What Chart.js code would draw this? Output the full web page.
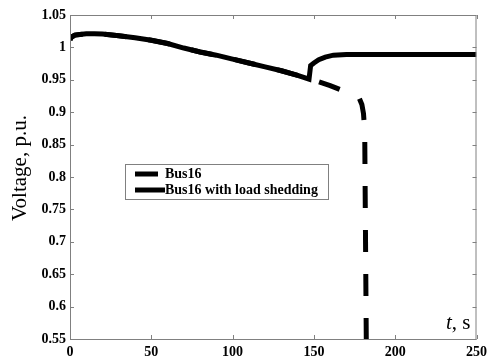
<!DOCTYPE html>
<html>
<head>
<meta charset="utf-8">
<script src="https://cdn.jsdelivr.net/npm/chart.js@4.4.1/dist/chart.umd.min.js"></script>
<style>
  html, body { margin: 0; padding: 0; background: #fff; }
  #wrap { width: 492px; height: 360px; }
</style>
</head>
<body>
<div id="wrap"><canvas id="c" width="492" height="360"></canvas></div>
<script>
// Bus16 (no load shedding) - collapses around t = 181 s
const tBus = [0, 1, 3, 6, 10, 15, 20, 30, 40, 50, 60, 70, 80, 90, 100, 110, 120, 130, 140, 147, 148,
  150, 153, 160, 166, 172, 176, 178, 179.5, 180.5, 181, 181.3, 182.3];
const vBus = [1.012, 1.016, 1.019, 1.020, 1.021, 1.021, 1.0205, 1.018, 1.015, 1.011, 1.006, 0.999, 0.993, 0.988, 0.982, 0.976, 0.970, 0.964, 0.957, 0.951, 0.950,
  0.949, 0.947, 0.941, 0.935, 0.929, 0.925, 0.921, 0.912, 0.898, 0.880, 0.854, 0.52];

// Bus16 with load shedding - recovers after t = 148 s
const tShed = [0, 1, 3, 6, 10, 15, 20, 30, 40, 50, 60, 70, 80, 90, 100, 110, 120, 130, 140, 147,
  148, 150, 153, 157, 162, 170, 180, 200, 225, 250];
const vShed = [1.012, 1.016, 1.019, 1.020, 1.021, 1.021, 1.0205, 1.018, 1.015, 1.011, 1.006, 0.999, 0.993, 0.988, 0.982, 0.976, 0.970, 0.964, 0.957, 0.951,
  0.972, 0.976, 0.981, 0.985, 0.988, 0.989, 0.989, 0.989, 0.989, 0.989];

const xTicks = [0, 50, 100, 150, 200, 250];
const yTicks = [0.55, 0.6, 0.65, 0.7, 0.75, 0.8, 0.85, 0.9, 0.95, 1, 1.05];
const seriesNames = ['Bus16', 'Bus16 with load shedding'];

const toPts = (ts, vs) => ts.map((t, i) => ({x: t, y: vs[i]}));

const serif = "'Liberation Serif', 'Times New Roman', serif";
const axisGray = '#808080';
const dash = [22, 22];

// shift the dash pattern so that a dash starts where the collapse turns vertical
function dashPhase(ctx) {
  const {x, y} = ctx.chart.scales;
  if (!x || !y) return 0;
  const anchor = tBus.indexOf(181.3);
  let len = 0;
  for (let i = 1; i <= anchor; i++) {
    const dx = x.getPixelForValue(tBus[i]) - x.getPixelForValue(tBus[i - 1]);
    const dy = y.getPixelForValue(vBus[i]) - y.getPixelForValue(vBus[i - 1]);
    len += Math.hypot(dx, dy);
  }
  const period = dash[0] + dash[1];
  return ((-len % period) + period) % period;
}

// frame, inward ticks, axis texts and the legend box (MATLAB look)
const decor = {
  id: 'decor',
  afterDatasetsDraw(chart) {
    const {ctx, chartArea: a, scales: {x, y}} = chart;
    ctx.save();
    ctx.strokeStyle = axisGray;
    ctx.lineWidth = 1;
    ctx.strokeRect(a.left + 0.5, a.top + 0.5, a.right - a.left - 1, a.bottom - a.top);
    ctx.beginPath();
    xTicks.forEach(v => {
      const px = Math.round(x.getPixelForValue(v)) + 0.5;
      ctx.moveTo(px, a.bottom); ctx.lineTo(px, a.bottom - 4);
      ctx.moveTo(px, a.top); ctx.lineTo(px, a.top + 4);
    });
    yTicks.forEach(v => {
      const py = Math.round(y.getPixelForValue(v)) + 0.5;
      ctx.moveTo(a.left, py); ctx.lineTo(a.left + 4, py);
      ctx.moveTo(a.right, py); ctx.lineTo(a.right - 4, py);
    });
    ctx.stroke();

    // y title
    ctx.fillStyle = '#000';
    ctx.font = '21px ' + serif;
    ctx.textAlign = 'center';
    ctx.textBaseline = 'middle';
    ctx.translate(20, 168);
    ctx.rotate(-Math.PI / 2);
    ctx.fillText('Voltage, p.u.', 0, 0);
    ctx.setTransform(1, 0, 0, 1, 0, 0);

    // x title inside the axes
    ctx.textAlign = 'left';
    ctx.textBaseline = 'alphabetic';
    ctx.font = 'italic 21px ' + serif;
    ctx.fillText('t', 446, 329);
    const tw = ctx.measureText('t').width;
    ctx.font = '21px ' + serif;
    ctx.fillText(', s', 446 + tw, 329);

    // legend
    ctx.fillStyle = '#fff';
    ctx.fillRect(125, 164, 203, 35);
    ctx.strokeStyle = axisGray;
    ctx.strokeRect(125.5, 164.5, 203, 35);
    ctx.strokeStyle = '#000';
    ctx.lineWidth = 5;
    ctx.lineCap = 'butt';
    ctx.beginPath(); ctx.moveTo(135, 174); ctx.lineTo(158, 174); ctx.stroke();
    ctx.beginPath(); ctx.moveTo(135, 190); ctx.lineTo(165, 190); ctx.stroke();
    ctx.fillStyle = '#000';
    ctx.font = 'bold 14px ' + serif;
    ctx.textBaseline = 'middle';
    ctx.fillText(seriesNames[0], 165, 174);
    ctx.fillText(seriesNames[1], 165, 190);
    ctx.restore();
  }
};

new Chart(document.getElementById('c').getContext('2d'), {
  type: 'line',
  data: {
    datasets: [{
      label: seriesNames[0],
      data: toPts(tBus, vBus),
      borderColor: '#000',
      borderWidth: 5,
      borderDash: dash,
      borderDashOffset: dashPhase,
      pointRadius: 0,
      tension: 0
    }, {
      label: seriesNames[1],
      data: toPts(tShed, vShed),
      borderColor: '#000',
      borderWidth: 5,
      pointRadius: 0,
      tension: 0
    }]
  },
  options: {
    responsive: false,
    animation: false,
    layout: {padding: {top: 15, right: 11, left: 0, bottom: 0}},
    plugins: {legend: {display: false}, tooltip: {enabled: false}},
    scales: {
      x: {
        type: 'linear', min: 0, max: 250,
        afterBuildTicks: s => { s.ticks = xTicks.map(v => ({value: v})); },
        afterFit: s => { s.height = 21; },
        grid: {display: false, drawTicks: false},
        border: {display: false},
        ticks: {color: '#000', padding: 5, maxRotation: 0, font: {family: serif, size: 14, weight: 'bold'}}
      },
      y: {
        min: 0.55, max: 1.05,
        afterBuildTicks: s => { s.ticks = yTicks.map(v => ({value: v})); },
        afterFit: s => { s.width = 70; },
        grid: {display: false, drawTicks: false},
        border: {display: false},
        ticks: {
          color: '#000', padding: 4,
          font: {family: serif, size: 14, weight: 'bold'},
          callback: v => String(Number(v.toFixed(2)))
        }
      }
    }
  },
  plugins: [decor]
});
</script>
</body>
</html>
